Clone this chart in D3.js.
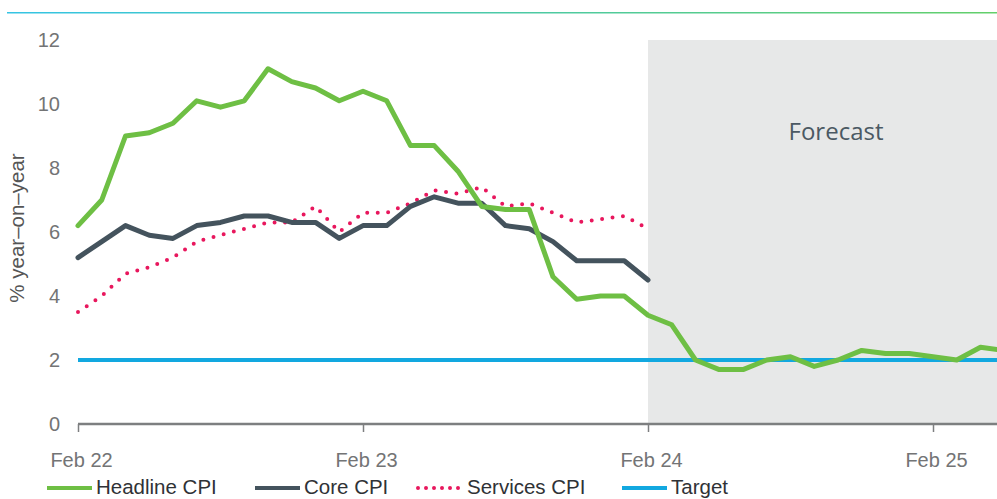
<!DOCTYPE html>
<html>
<head>
<meta charset="utf-8">
<script src="https://cdn.jsdelivr.net/npm/d3@7"></script>
<style>
  body { margin: 0; background: #fff; }
  svg { display: block; font-family: 'Liberation Sans', Arial, sans-serif; }
</style>
</head>
<body>
<script>
// monthly values, first point = Feb 22
var headline = [6.2, 7.0, 9.0, 9.1, 9.4, 10.1, 9.9, 10.1, 11.1, 10.7, 10.5, 10.1,
  10.4, 10.1, 8.7, 8.7, 7.9, 6.8, 6.7, 6.7, 4.6, 3.9, 4.0, 4.0,
  3.4, 3.1, 2.0, 1.7, 1.7, 2.0, 2.1, 1.8, 2.0, 2.3, 2.2, 2.2,
  2.1, 2.0, 2.4, 2.3]
var core = [5.2, 5.7, 6.2, 5.9, 5.8, 6.2, 6.3, 6.5, 6.5, 6.3, 6.3, 5.8,
  6.2, 6.2, 6.8, 7.1, 6.9, 6.9, 6.2, 6.1, 5.7, 5.1, 5.1, 5.1, 4.5]
var services = [3.5, 4.0, 4.7, 4.9, 5.2, 5.7, 5.9, 6.1, 6.3, 6.3, 6.8, 6.0,
  6.6, 6.6, 6.9, 7.3, 7.2, 7.4, 6.8, 6.9, 6.6, 6.3, 6.4, 6.5, 6.1]
var target = 2
var tickMonths = [0, 12, 24, 36]
var tickLabels = ['Feb 22', 'Feb 23', 'Feb 24', 'Feb 25']
var yTicks = [0, 2, 4, 6, 8, 10, 12]
var forecastStart = 24
var legendNames = ['Headline CPI', 'Core CPI', 'Services CPI', 'Target']

var W = 997, H = 499
var svg = d3.select('body').append('svg')
  .attr('width', W)
  .attr('height', H)

var x = d3.scaleLinear().domain([0, 36]).range([78, 933])
var y = d3.scaleLinear().domain([0, 12]).range([424, 40])

// top rule
var grad = svg.append('defs').append('linearGradient')
  .attr('id', 'topgrad')
grad.append('stop').attr('offset', '0%').attr('stop-color', '#35c4e4')
grad.append('stop').attr('offset', '100%').attr('stop-color', '#63cf6a')
svg.append('rect')
  .attr('x', 7).attr('y', 12)
  .attr('width', W - 7).attr('height', 1.5)
  .attr('fill', 'url(#topgrad)')

svg.select('defs').append('clipPath').attr('id', 'plotclip')
  .append('rect').attr('x', 0).attr('y', 0).attr('width', W).attr('height', H)

var plot = svg.append('g').attr('clip-path', 'url(#plotclip)')

// forecast shading
plot.append('rect')
  .attr('x', x(forecastStart))
  .attr('y', y(12))
  .attr('width', W - x(forecastStart) + 10)
  .attr('height', y(0) - y(12))
  .attr('fill', '#e7e8e8')

svg.append('text')
  .attr('x', 836)
  .attr('y', 140)
  .attr('text-anchor', 'middle')
  .attr('font-family', "'Open Sans', sans-serif")
  .attr('font-size', 24)
  .attr('fill', '#4b5963')
  .text('Forecast')

// y axis labels (no line)
svg.append('g').selectAll('text').data(yTicks).enter()
  .append('text')
  .attr('x', 60)
  .attr('y', function(d) { return y(d) + 7 })
  .attr('text-anchor', 'end')
  .attr('font-size', 20)
  .attr('fill', '#737475')
  .text(function(d) { return d })

svg.append('text')
  .attr('transform', 'translate(24,228) rotate(-90)')
  .attr('text-anchor', 'middle')
  .attr('font-size', 20.5)
  .attr('fill', '#555')
  .text('% year\u2013on\u2013year')

// x axis
var xAxis = d3.axisBottom(x)
  .tickValues(tickMonths)
  .tickSize(8)
  .tickFormat(function(d, i) { return tickLabels[i] })
var gx = svg.append('g')
  .attr('transform', 'translate(0,' + y(0) + ')')
  .call(xAxis)
gx.select('.domain').remove()
gx.insert('line', ':first-child')
  .attr('x1', x(0)).attr('x2', W)
  .attr('stroke', '#7d7f80').attr('stroke-width', 2.5)
gx.selectAll('.tick line').attr('stroke', '#7d7f80').attr('stroke-width', 1.5)
gx.selectAll('.tick text')
  .attr('y', 43)
  .attr('dy', 0)
  .attr('dx', 3)
  .attr('font-size', 20)
  .attr('font-family', "'Liberation Sans', Arial, sans-serif")
  .attr('fill', '#737475')

var line = d3.line()
  .x(function(d, i) { return x(i) })
  .y(function(d) { return y(d) })

// target
plot.append('line')
  .attr('x1', x(0)).attr('x2', W + 5)
  .attr('y1', y(target)).attr('y2', y(target))
  .attr('stroke', '#12a8e0')
  .attr('stroke-width', 4)

plot.append('path').datum(services)
  .attr('d', line)
  .attr('fill', 'none')
  .attr('stroke', '#e8175d')
  .attr('stroke-width', 4)
  .attr('stroke-linecap', 'round')
  .attr('stroke-dasharray', '0 10.5')

plot.append('path').datum(core)
  .attr('d', line)
  .attr('fill', 'none')
  .attr('stroke', '#44535d')
  .attr('stroke-width', 5)
  .attr('stroke-linejoin', 'round')
  .attr('stroke-linecap', 'round')

plot.append('path').datum(headline)
  .attr('d', line)
  .attr('fill', 'none')
  .attr('stroke', '#6ebf44')
  .attr('stroke-width', 5)
  .attr('stroke-linejoin', 'round')
  .attr('stroke-linecap', 'round')

// legend
var legendStyle = [
  { color: '#6ebf44', dash: null, x: 47 },
  { color: '#44535d', dash: null, x: 255 },
  { color: '#e8175d', dash: '0 8', x: 418 },
  { color: '#12a8e0', dash: null, x: 622 }
]
var lg = svg.append('g').selectAll('g').data(legendNames).enter()
  .append('g')
  .attr('transform', function(d, i) { return 'translate(' + legendStyle[i].x + ',488)' })
lg.append('line')
  .attr('x1', 0).attr('x2', 45)
  .attr('stroke', function(d, i) { return legendStyle[i].color })
  .attr('stroke-width', 4)
  .attr('stroke-linecap', function(d, i) { return legendStyle[i].dash ? 'round' : 'butt' })
  .attr('stroke-dasharray', function(d, i) { return legendStyle[i].dash })
lg.append('text')
  .attr('x', 49)
  .attr('y', 6)
  .attr('font-size', 20.5)
  .attr('fill', '#2f3236')
  .text(function(d) { return d })
</script>
</body>
</html>
